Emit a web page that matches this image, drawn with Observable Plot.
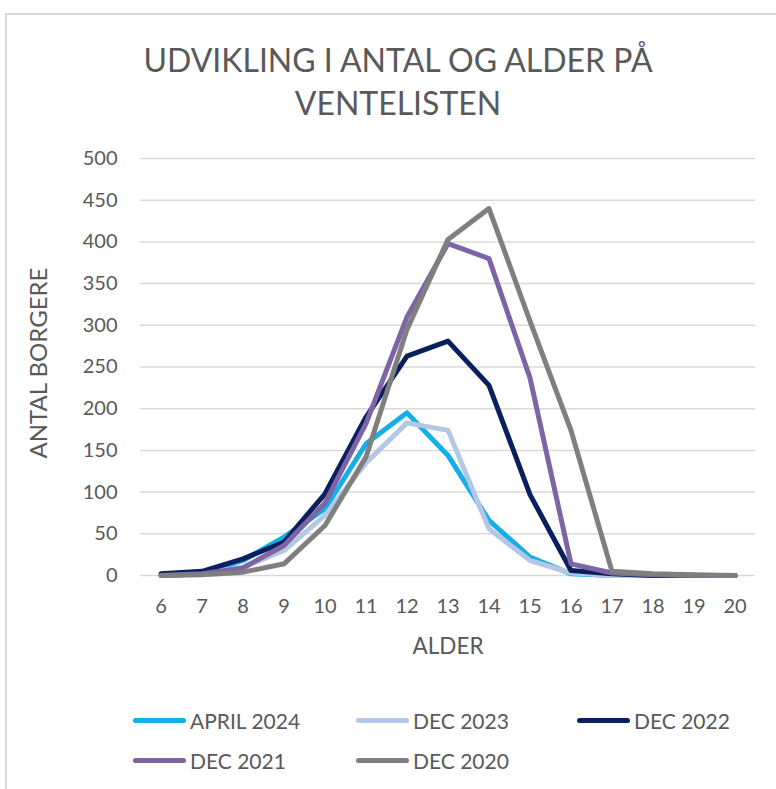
<!DOCTYPE html>
<html>
<head>
<meta charset="utf-8">
<script src="https://cdn.jsdelivr.net/npm/d3@7"></script>
<script src="https://cdn.jsdelivr.net/npm/@observablehq/plot@0.6"></script>
<style>
  html, body { margin: 0; padding: 0; background: #fff; }
  #wrap { position: relative; width: 776px; height: 789px; overflow: hidden; font-family: Lato, "Open Sans", sans-serif; color: #595959; }
  #frame { position: absolute; left: 5px; top: 13px; width: 780px; height: 800px; border-left: 2px solid #d9d9d9; border-top: 2px solid #d9d9d9; }
  #chart { position: absolute; left: 0; top: 0; }
  .title { position: absolute; left: 0; width: 796px; text-align: center; font-size: 32px; line-height: 1; white-space: nowrap; }
  .lbl { position: absolute; white-space: nowrap; }
  .leg { position: absolute; display: flex; align-items: center; font-size: 21px; white-space: nowrap; }
  .leg .sw { width: 53px; height: 5px; border-radius: 3px; margin-right: 4px; }
</style>
</head>
<body>
<div id="wrap">
  <div id="frame"></div>
  <div id="chart"></div>
  <div class="title" style="top:44px">UDVIKLING I ANTAL OG ALDER PÅ</div>
  <div class="title" style="top:87px">VENTELISTEN</div>
  <div class="lbl" id="ylab" style="left:37px; top:363px; font-size:24px; transform: translate(-50%,-50%) rotate(-90deg);">ANTAL BORGERE</div>
  <div class="lbl" id="xlab" style="left:448px; top:645px; font-size:22.5px; transform: translate(-50%,-50%);">ALDER</div>
  <div id="legend"></div>
</div>
<script>
const ages = [6, 7, 8, 9, 10, 11, 12, 13, 14, 15, 16, 17, 18, 19, 20];
const seriesNames = ["APRIL 2024", "DEC 2023", "DEC 2022", "DEC 2021", "DEC 2020"];
const seriesColors = ["#14AEE8", "#B4C7E4", "#0A1F5E", "#7E64A5", "#7F7F7F"];
const april2024 = [0, 2, 18, 46, 80, 158, 195, 144, 66, 22, 2, 0, 0, 0, 0];
const dec2023   = [0, 2, 10, 30, 72, 135, 183, 174, 56, 18, 3, 0, 0, 0, 0];
const dec2022   = [2, 5, 20, 40, 98, 190, 263, 281, 228, 97, 6, 2, 0, 0, 0];
const dec2021   = [0, 2, 9, 36, 87, 182, 310, 398, 380, 237, 14, 3, 1, 0, 0];
const dec2020   = [0, 1, 4, 14, 60, 142, 295, 403, 440, 305, 174, 5, 2, 1, 0];
const yTicks = [0, 50, 100, 150, 200, 250, 300, 350, 400, 450, 500];

const seriesValues = [april2024, dec2023, dec2022, dec2021, dec2020];
const data = [];
seriesNames.forEach((name, i) => {
  ages.forEach((a, j) => data.push({series: name, age: a, value: seriesValues[i][j]}));
});

const W = 776, H = 789;
const chart = Plot.plot({
  width: W,
  height: H,
  marginTop: 158,
  marginBottom: 214,
  marginLeft: 140,
  marginRight: 21,
  style: {fontFamily: "Lato, 'Open Sans', sans-serif", fontSize: "20px", color: "#595959", background: "transparent"},
  x: {domain: [5.5, 20.5], label: null},
  y: {domain: [0, 500], label: null},
  color: {domain: seriesNames, range: seriesColors},
  marks: [
    Plot.ruleY(yTicks, {stroke: "#d9d9d9", strokeWidth: 1.5}),
    Plot.axisY({ticks: yTicks, tickSize: 0, tickPadding: 23, label: null, tickFormat: d => String(d)}),
    Plot.axisX({ticks: ages, tickSize: 0, tickPadding: 23, label: null, tickFormat: d => String(d)}),
    Plot.line(data, {x: "age", y: "value", z: "series", stroke: "series", strokeWidth: 5, strokeLinejoin: "round", strokeLinecap: "round"})
  ]
});
document.getElementById("chart").appendChild(chart);

// legend
const legPos = [[133, 720], [356, 720], [577, 720], [133, 760], [356, 760]];
const leg = document.getElementById("legend");
seriesNames.forEach((name, i) => {
  const d = document.createElement("div");
  d.className = "leg";
  d.style.left = legPos[i][0] + "px";
  d.style.top = (legPos[i][1] - 12) + "px";
  d.style.height = "24px";
  const sw = document.createElement("div");
  sw.className = "sw";
  sw.style.background = seriesColors[i];
  const t = document.createElement("span");
  t.textContent = name;
  d.appendChild(sw); d.appendChild(t);
  leg.appendChild(d);
});
</script>
</body>
</html>
